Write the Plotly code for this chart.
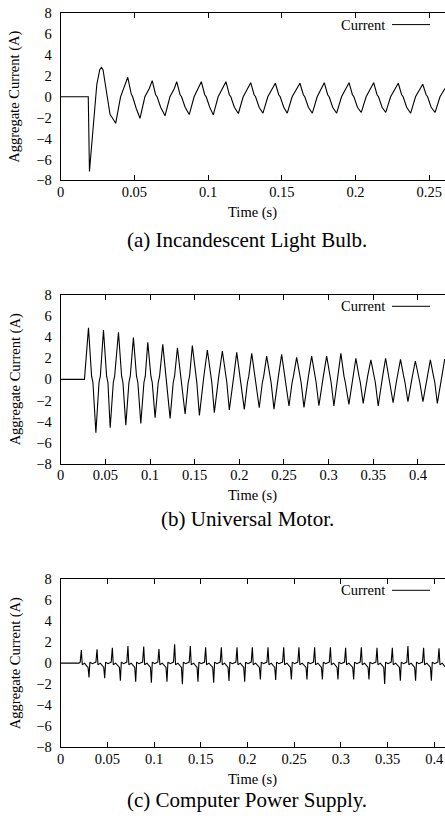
import plotly.graph_objects as go

# ---------------- data ----------------
# (a) Incandescent light bulb
t_bulb = [0.0000, 0.0187, 0.0195, 0.0215, 0.0245, 0.0265, 0.0276, 0.0287, 0.0310, 0.0335, 0.0350, 0.0373,
          0.0406, 0.0432, 0.0455, 0.0478, 0.0488, 0.0512, 0.0538,
          0.0571, 0.0601, 0.0621, 0.0644, 0.0654, 0.0678, 0.0708,
          0.0741, 0.0771, 0.0787, 0.0810, 0.0820, 0.0844, 0.0872,
          0.0905, 0.0935, 0.0954, 0.0977, 0.0987, 0.1011, 0.1035,
          0.1068, 0.1098, 0.1121, 0.1144, 0.1154, 0.1178, 0.1205,
          0.1238, 0.1268, 0.1289, 0.1312, 0.1322, 0.1346, 0.1372,
          0.1405, 0.1435, 0.1456, 0.1479, 0.1489, 0.1513, 0.1537,
          0.1570, 0.1600, 0.1623, 0.1646, 0.1656, 0.1680, 0.1707,
          0.1740, 0.1770, 0.1788, 0.1811, 0.1821, 0.1845, 0.1872,
          0.1905, 0.1935, 0.1956, 0.1979, 0.1989, 0.2013, 0.2039,
          0.2072, 0.2102, 0.2123, 0.2146, 0.2156, 0.2180, 0.2205,
          0.2238, 0.2268, 0.2290, 0.2313, 0.2323, 0.2347, 0.2374,
          0.2407, 0.2437, 0.2456, 0.2479, 0.2489, 0.2513, 0.2540,
          0.2573, 0.2603, 0.2620]
i_bulb = [0.00, 0.00, -7.15, -3.60, 1.20, 2.60, 2.82, 2.60, 0.60, -1.70, -2.00, -2.54,
          0.00, 1.00, 1.87, 0.30, 0.00, -1.10, -2.06,
          0.00, 0.80, 1.55, 0.20, 0.00, -1.00, -1.81,
          0.00, 0.80, 1.45, 0.20, 0.00, -1.00, -1.70,
          0.00, 0.80, 1.45, 0.20, 0.00, -1.00, -1.73,
          0.00, 0.80, 1.45, 0.20, 0.00, -1.00, -1.60,
          0.00, 0.80, 1.35, 0.20, 0.00, -1.00, -1.57,
          0.00, 0.80, 1.30, 0.20, 0.00, -1.00, -1.57,
          0.00, 0.80, 1.30, 0.20, 0.00, -1.00, -1.57,
          0.00, 0.80, 1.35, 0.20, 0.00, -1.00, -1.57,
          0.00, 0.80, 1.35, 0.20, 0.00, -1.00, -1.50,
          0.00, 0.80, 1.35, 0.20, 0.00, -1.00, -1.50,
          0.00, 0.80, 1.30, 0.20, 0.00, -1.00, -1.57,
          0.00, 0.80, 1.20, 0.20, 0.00, -1.00, -1.50,
          0.00, 0.80, 1.10]

# (b) Universal motor
t_motor = [0.0000, 0.0266,
           0.0311, 0.0346, 0.0361,
           0.0394, 0.0429, 0.0444,
           0.0479, 0.0514, 0.0529,
           0.0554, 0.0589, 0.0604,
           0.0647, 0.0682, 0.0697,
           0.0729, 0.0764, 0.0779,
           0.0814, 0.0849, 0.0864,
           0.0897, 0.0932, 0.0947,
           0.0975, 0.1010, 0.1025,
           0.1057, 0.1092, 0.1107,
           0.1143, 0.1178, 0.1193,
           0.1225, 0.1260, 0.1275,
           0.1307, 0.1342, 0.1357,
           0.1393, 0.1428, 0.1443,
           0.1474, 0.1509, 0.1524,
           0.1553, 0.1588, 0.1603,
           0.1642, 0.1677, 0.1692,
           0.1720, 0.1755, 0.1770,
           0.1810, 0.1845, 0.1860,
           0.1888, 0.1923, 0.1938,
           0.1971, 0.2006, 0.2021,
           0.2056, 0.2091, 0.2106,
           0.2139, 0.2174, 0.2189,
           0.2223, 0.2258, 0.2273,
           0.2306, 0.2341, 0.2356,
           0.2388, 0.2423, 0.2438,
           0.2474, 0.2509, 0.2524,
           0.2556, 0.2591, 0.2606,
           0.2642, 0.2677, 0.2692,
           0.2724, 0.2759, 0.2774,
           0.2810, 0.2845, 0.2860,
           0.2891, 0.2926, 0.2941,
           0.2978, 0.3013, 0.3028,
           0.3059, 0.3094, 0.3109,
           0.3137, 0.3172, 0.3187,
           0.3227, 0.3262, 0.3277,
           0.3305, 0.3340, 0.3355,
           0.3387, 0.3422, 0.3437,
           0.3473, 0.3508, 0.3523,
           0.3555, 0.3590, 0.3605,
           0.3638, 0.3673, 0.3688,
           0.3722, 0.3757, 0.3772,
           0.3805, 0.3840, 0.3855,
           0.3888, 0.3923, 0.3938,
           0.3971, 0.4006, 0.4021,
           0.4056, 0.4091, 0.4106,
           0.4139, 0.4174, 0.4189,
           0.4217, 0.4252, 0.4267,
           0.4300]
i_motor = [0.00, 0.00,
           4.90, 0.3, -0.3,
           -5.06, -0.3, 0.3,
           4.68, 0.3, -0.3,
           -4.59, -0.3, 0.3,
           4.46, 0.3, -0.3,
           -4.34, -0.3, 0.3,
           3.96, 0.3, -0.3,
           -4.18, -0.3, 0.3,
           3.51, 0.3, -0.3,
           -3.64, -0.3, 0.3,
           3.32, 0.3, -0.3,
           -3.70, -0.3, 0.3,
           3.00, 0.3, -0.3,
           -3.29, -0.3, 0.3,
           3.20, 0.3, -0.3,
           -3.42, -0.3, 0.3,
           2.78, 0.3, -0.3,
           -3.16, -0.3, 0.3,
           2.69, 0.3, -0.3,
           -2.91, -0.3, 0.3,
           2.56, 0.3, -0.3,
           -2.85, -0.3, 0.3,
           2.47, 0.3, -0.3,
           -2.69, -0.3, 0.3,
           2.20, 0.3, -0.3,
           -2.82, -0.3, 0.3,
           2.37, 0.3, -0.3,
           -2.53, -0.3, 0.3,
           2.09, 0.3, -0.3,
           -2.66, -0.3, 0.3,
           2.20, 0.3, -0.3,
           -2.50, -0.3, 0.3,
           2.20, 0.3, -0.3,
           -2.53, -0.3, 0.3,
           2.47, 0.3, -0.3,
           -2.37, -0.3, 0.3,
           2.00, 0.3, -0.3,
           -2.28, -0.3, 0.3,
           1.84, 0.3, -0.3,
           -2.53, -0.3, 0.3,
           2.00, 0.3, -0.3,
           -2.22, -0.3, 0.3,
           1.90, 0.3, -0.3,
           -2.12, -0.3, 0.3,
           1.74, 0.3, -0.3,
           -2.12, -0.3, 0.3,
           1.84, 0.3, -0.3,
           -2.28, -0.3, 0.3,
           1.93]

# (c) Computer power supply
t_psu = [0.0000, 0.0195,
         0.0209, 0.0221, 0.0231, 0.0256, 0.0281,
         0.0293, 0.0303, 0.0313, 0.0338, 0.0363,
         0.0377, 0.0389, 0.0399, 0.0424, 0.0449,
         0.0461, 0.0471, 0.0481, 0.0506, 0.0531,
         0.0541, 0.0553, 0.0563, 0.0588, 0.0613,
         0.0629, 0.0639, 0.0649, 0.0674, 0.0699,
         0.0708, 0.0720, 0.0730, 0.0755, 0.0780,
         0.0793, 0.0803, 0.0813, 0.0838, 0.0863,
         0.0877, 0.0889, 0.0899, 0.0924, 0.0949,
         0.0961, 0.0971, 0.0981, 0.1006, 0.1031,
         0.1040, 0.1052, 0.1062, 0.1087, 0.1112,
         0.1128, 0.1138, 0.1148, 0.1173, 0.1198,
         0.1208, 0.1220, 0.1230, 0.1255, 0.1280,
         0.1293, 0.1303, 0.1313, 0.1338, 0.1363,
         0.1376, 0.1388, 0.1398, 0.1423, 0.1448,
         0.1460, 0.1470, 0.1480, 0.1505, 0.1530,
         0.1540, 0.1552, 0.1562, 0.1587, 0.1612,
         0.1628, 0.1638, 0.1648, 0.1673, 0.1698,
         0.1708, 0.1720, 0.1730, 0.1755, 0.1780,
         0.1792, 0.1802, 0.1812, 0.1837, 0.1862,
         0.1876, 0.1888, 0.1898, 0.1923, 0.1948,
         0.1960, 0.1970, 0.1980, 0.2005, 0.2030,
         0.2040, 0.2052, 0.2062, 0.2087, 0.2112,
         0.2128, 0.2138, 0.2148, 0.2173, 0.2198,
         0.2208, 0.2220, 0.2230, 0.2255, 0.2280,
         0.2292, 0.2302, 0.2312, 0.2337, 0.2362,
         0.2376, 0.2388, 0.2398, 0.2423, 0.2448,
         0.2460, 0.2470, 0.2480, 0.2505, 0.2530,
         0.2539, 0.2551, 0.2561, 0.2586, 0.2611,
         0.2627, 0.2637, 0.2647, 0.2672, 0.2697,
         0.2707, 0.2719, 0.2729, 0.2754, 0.2779,
         0.2792, 0.2802, 0.2812, 0.2837, 0.2862,
         0.2876, 0.2888, 0.2898, 0.2923, 0.2948,
         0.2959, 0.2969, 0.2979, 0.3004, 0.3029,
         0.3039, 0.3051, 0.3061, 0.3086, 0.3111,
         0.3127, 0.3137, 0.3147, 0.3172, 0.3197,
         0.3207, 0.3219, 0.3229, 0.3254, 0.3279,
         0.3291, 0.3301, 0.3311, 0.3336, 0.3361,
         0.3375, 0.3387, 0.3397, 0.3422, 0.3447,
         0.3459, 0.3469, 0.3479, 0.3504, 0.3529,
         0.3539, 0.3551, 0.3561, 0.3586, 0.3611,
         0.3627, 0.3637, 0.3647, 0.3672, 0.3697,
         0.3706, 0.3718, 0.3728, 0.3753, 0.3778,
         0.3790, 0.3800, 0.3810, 0.3835, 0.3860,
         0.3874, 0.3886, 0.3896, 0.3921, 0.3946,
         0.3959, 0.3969, 0.3979, 0.4004, 0.4029,
         0.4039, 0.4051, 0.4061, 0.4086, 0.4111,
         0.4130]
i_psu = [0.00, 0.00,
         0.10, 1.25, -0.15, 0.00, -0.30,
         -0.40, -1.35, 0.10, -0.05, 0.05,
         0.10, 1.31, -0.15, 0.00, -0.30,
         -0.40, -1.44, 0.10, -0.05, 0.05,
         0.10, 1.47, -0.15, 0.00, -0.30,
         -0.40, -1.66, 0.10, -0.05, 0.05,
         0.10, 1.63, -0.15, 0.00, -0.30,
         -0.40, -1.76, 0.10, -0.05, 0.05,
         0.10, 1.57, -0.15, 0.00, -0.30,
         -0.40, -1.85, 0.10, -0.05, 0.05,
         0.10, 1.35, -0.15, 0.00, -0.30,
         -0.40, -1.76, 0.10, -0.05, 0.05,
         0.10, 1.79, -0.15, 0.00, -0.30,
         -0.40, -2.00, 0.10, -0.05, 0.05,
         0.10, 1.63, -0.15, 0.00, -0.30,
         -0.40, -1.76, 0.10, -0.05, 0.05,
         0.10, 1.50, -0.15, 0.00, -0.30,
         -0.40, -1.85, 0.10, -0.05, 0.05,
         0.10, 1.50, -0.15, 0.00, -0.30,
         -0.40, -1.70, 0.10, -0.05, 0.05,
         0.10, 1.50, -0.15, 0.00, -0.30,
         -0.40, -1.76, 0.10, -0.05, 0.05,
         0.10, 1.50, -0.15, 0.00, -0.30,
         -0.40, -1.54, 0.10, -0.05, 0.05,
         0.10, 1.50, -0.15, 0.00, -0.30,
         -0.40, -1.60, 0.10, -0.05, 0.05,
         0.10, 1.50, -0.15, 0.00, -0.30,
         -0.40, -1.54, 0.10, -0.05, 0.05,
         0.10, 1.50, -0.15, 0.00, -0.30,
         -0.40, -1.54, 0.10, -0.05, 0.05,
         0.10, 1.50, -0.15, 0.00, -0.30,
         -0.40, -1.54, 0.10, -0.05, 0.05,
         0.10, 1.50, -0.15, 0.00, -0.30,
         -0.40, -1.54, 0.10, -0.05, 0.05,
         0.10, 1.47, -0.15, 0.00, -0.30,
         -0.40, -1.54, 0.10, -0.05, 0.05,
         0.10, 1.50, -0.15, 0.00, -0.30,
         -0.40, -1.54, 0.10, -0.05, 0.05,
         0.10, 1.47, -0.15, 0.00, -0.30,
         -0.40, -1.98, 0.10, -0.05, 0.05,
         0.10, 1.47, -0.15, 0.00, -0.30,
         -0.40, -1.66, 0.10, -0.05, 0.05,
         0.10, 1.63, -0.15, 0.00, -0.30,
         -0.40, -1.66, 0.10, -0.05, 0.05,
         0.10, 1.47, -0.15, 0.00, -0.30,
         -0.40, -1.66, 0.10, -0.05, 0.05,
         0.10, 1.41, -0.15, 0.00, -0.30,
         -0.10]

y_ticks = [-8, -6, -4, -2, 0, 2, 4, 6, 8]
y_tick_labels = ["\u22128", "\u22126", "\u22124", "\u22122", "0", "2", "4", "6", "8"]
x_ticks_a = [0, 0.05, 0.1, 0.15, 0.2, 0.25]
x_tick_labels_a = ["0", "0.05", "0.1", "0.15", "0.2", "0.25"]
x_ticks_bc = [0, 0.05, 0.1, 0.15, 0.2, 0.25, 0.3, 0.35, 0.4]
x_tick_labels_bc = ["0", "0.05", "0.1", "0.15", "0.2", "0.25", "0.3", "0.35", "0.4"]
x_max = [0.2607, 0.4303, 0.4115]
captions = ["(a) Incandescent Light Bulb.", "(b) Universal Motor.", "(c) Computer Power Supply."]
legend_label = "Current"
x_title = "Time (s)"
y_title = "Aggregate Current (A)"

# ---------------- layout ----------------
W, H = 445, 823
FONT = "Liberation Serif"


def px(x):
    return x / W


def py(y):
    return 1 - y / H


left = 60.7
tops = [13.3, 295.0, 579.0]
bottoms = [180.3, 463.7, 747.3]
caption_y = [240.0, 519.0, 800.0]

series = [(t_bulb, i_bulb, x_ticks_a, x_tick_labels_a),
          (t_motor, i_motor, x_ticks_bc, x_tick_labels_bc),
          (t_psu, i_psu, x_ticks_bc, x_tick_labels_bc)]

fig = go.Figure()
annotations = []
shapes = []
layout_axes = {}
tickfont = dict(family=FONT, size=14.5, color="black")
textfont = dict(family=FONT, size=14.5, color="black")

for k, (tt, ii, xt, xl) in enumerate(series):
    n = k + 1
    xa = "x" if n == 1 else f"x{n}"
    ya = "y" if n == 1 else f"y{n}"
    fig.add_trace(go.Scatter(x=tt, y=ii, mode="lines", xaxis=xa, yaxis=ya,
                             line=dict(color="black", width=1.1), showlegend=False,
                             hoverinfo="skip"))
    dom_y = [py(bottoms[k]), py(tops[k])]
    layout_axes["xaxis" if n == 1 else f"xaxis{n}"] = dict(
        domain=[px(left), 1.0], anchor=ya, range=[0, x_max[k]],
        tickmode="array", tickvals=xt, ticktext=xl,
        ticks="inside", ticklen=5, tickcolor="black", tickwidth=1,
        showline=True, linecolor="black", linewidth=1, mirror="ticks",
        showgrid=False, zeroline=False, tickfont=tickfont,
        ticklabelstandoff=-2, automargin=False)
    layout_axes["yaxis" if n == 1 else f"yaxis{n}"] = dict(
        domain=dom_y, anchor=xa, range=[-8, 8],
        tickmode="array", tickvals=y_ticks, ticktext=y_tick_labels,
        ticks="", showline=True, linecolor="black", linewidth=1, mirror=False,
        showgrid=False, zeroline=False, tickfont=tickfont,
        ticklabelstandoff=5, automargin=False)
    layout_axes[f"yaxis{n + 3}"] = dict(
        overlaying=ya, side="right", anchor=xa, range=[-8, 8],
        tickmode="array", tickvals=y_ticks, ticks="inside", ticklen=5,
        tickcolor="black", showticklabels=False, showline=False,
        showgrid=False, zeroline=False, automargin=False)

    # axis titles
    annotations.append(dict(text=x_title, xref="paper", yref="paper",
                            x=(px(left) + 1.0) / 2, y=py(bottoms[k] + 32),
                            xanchor="center", yanchor="middle", showarrow=False,
                            font=textfont))
    annotations.append(dict(text=y_title, xref="paper", yref="paper",
                            x=px(15), y=py((tops[k] + bottoms[k]) / 2),
                            xanchor="center", yanchor="middle", showarrow=False,
                            textangle=-90, font=textfont))
    # legend (text then sample line, gnuplot style)
    ly = tops[k] + 11.3
    annotations.append(dict(text=legend_label, xref="paper", yref="paper",
                            x=px(387), y=py(ly), xanchor="right", yanchor="middle",
                            showarrow=False, font=textfont))
    shapes.append(dict(type="line", xref="paper", yref="paper",
                       x0=px(392), x1=px(430), y0=py(ly), y1=py(ly),
                       line=dict(color="black", width=1)))
    # caption
    annotations.append(dict(text=captions[k], xref="paper", yref="paper",
                            x=px(247), y=py(caption_y[k]), xanchor="center",
                            yanchor="middle", showarrow=False,
                            font=dict(family=FONT, size=21, color="black")))

fig.update_layout(width=W, height=H, margin=dict(l=0, r=0, t=0, b=0),
                  paper_bgcolor="white", plot_bgcolor="white",
                  annotations=annotations, shapes=shapes, showlegend=False,
                  **layout_axes)

fig.write_html("out.html", config={"displayModeBar": False},
               post_script="document.body.style.margin='0';"
                           "document.body.style.overflow='hidden';")
